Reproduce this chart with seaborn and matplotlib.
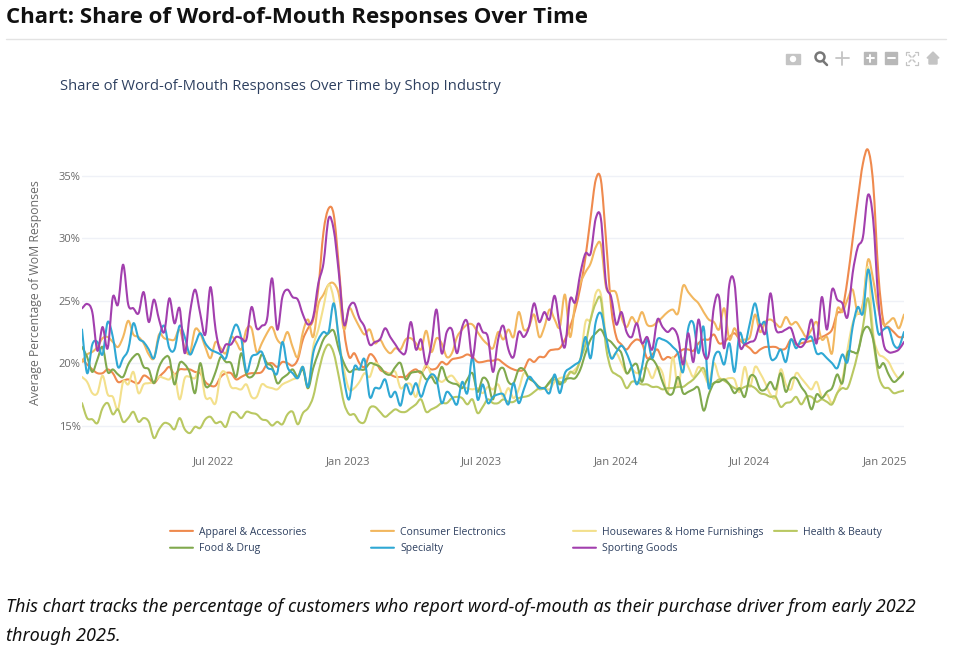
import pandas as pd
import numpy as np
import matplotlib.pyplot as plt
from matplotlib.patches import Rectangle, Circle
from matplotlib.path import Path
from matplotlib.patheffects import AbstractPathEffect
import seaborn as sns

# weekly readings, %
apparel = [
    20.3,19.9,19.5,19.2,19.2,19.5,19.2,18.5,18.6,18.7,
    18.5,18.4,19.0,18.8,18.4,18.9,19.3,19.7,19.1,19.5,
    19.5,19.5,19.3,19.2,18.5,18.2,18.2,18.9,19.2,19.2,
    18.7,18.9,19.1,19.2,19.2,19.3,19.9,20.0,19.7,20.1,
    20.0,19.8,20.3,21.9,22.8,23.5,26.0,30.5,32.4,31.9,
    27.7,22.7,20.5,20.8,20.0,19.7,20.7,20.4,19.5,19.3,
    19.1,18.9,18.9,18.9,19.3,19.5,19.2,19.7,19.5,19.6,
    20.1,19.9,20.3,20.4,20.5,20.7,20.5,20.1,20.1,20.2,
    20.2,20.3,20.0,19.7,19.5,19.4,19.5,20.3,20.1,20.5,
    20.5,21.0,21.1,21.2,21.9,22.9,24.3,26.1,28.5,31.7,
    34.7,34.7,29.9,24.5,22.1,21.5,21.1,21.6,21.9,21.6,
    20.4,20.7,21.1,20.3,20.5,20.4,20.8,21.1,21.1,21.0,
    21.6,21.9,21.9,22.3,21.6,21.7,22.1,22.4,21.9,21.5,
    21.2,20.8,21.1,21.3,21.3,21.3,21.1,21.2,21.9,21.5,
    21.6,21.7,21.8,21.9,22.1,22.3,22.7,24.0,24.3,26.7,
    29.9,33.1,36.0,37.1,34.4,27.2,23.3,22.9,22.5,22.1,22.1]
electronics = [
    20.1,20.7,20.9,21.3,22.0,22.1,21.7,21.3,22.1,23.4,
    22.3,22.1,21.6,20.7,20.4,22.3,22.0,21.9,21.9,22.7,
    21.2,20.8,22.7,22.4,21.3,20.4,21.7,21.2,20.8,22.1,
    21.7,21.1,22.7,22.8,20.9,21.6,22.4,22.9,21.9,21.6,
    22.5,21.3,20.5,22.5,23.5,22.1,24.7,25.5,26.3,26.4,
    25.5,22.7,24.4,23.7,22.9,22.3,22.7,21.6,21.9,21.2,
    20.8,21.2,21.1,21.9,22.0,21.6,21.1,22.6,20.9,22.0,
    21.6,20.5,20.8,22.1,22.7,23.1,23.1,22.5,21.9,21.5,
    21.2,22.5,21.9,22.7,22.1,24.1,22.7,22.9,23.9,22.1,
    22.9,24.3,23.5,22.9,25.5,22.1,24.8,26.4,27.3,28.0,
    29.3,29.5,26.1,25.8,25.6,23.7,22.9,23.7,23.2,24.1,
    23.1,23.0,23.3,23.7,24.1,24.3,24.0,26.2,25.7,25.2,
    24.8,24.1,23.5,23.3,22.7,24.4,21.9,22.8,21.9,21.9,
    22.1,23.9,22.5,23.3,23.5,23.2,22.9,23.7,23.1,23.3,
    22.7,22.1,22.7,23.3,21.9,22.1,20.8,24.3,24.1,25.1,
    25.9,24.0,24.8,28.3,26.7,24.3,23.1,23.3,23.6,22.8,23.9]
housewares = [
    18.9,18.5,17.6,17.6,19.0,17.5,17.3,16.3,18.5,18.3,
    19.3,17.6,18.3,18.4,18.5,18.9,18.8,18.7,19.1,17.1,
    18.8,18.9,18.8,19.5,17.3,17.2,16.8,19.1,19.2,18.1,
    18.0,17.9,18.3,17.3,17.3,18.3,18.1,18.0,17.9,18.3,
    18.5,18.7,18.9,19.7,18.0,21.3,22.7,24.5,26.3,25.1,
    21.9,19.5,17.9,18.0,18.5,19.2,18.9,20.0,19.7,19.2,
    19.2,19.3,18.0,18.3,18.3,17.3,18.9,19.9,19.1,18.8,
    18.5,18.8,19.0,18.5,18.1,18.0,17.9,18.0,17.6,18.1,
    17.9,18.3,17.3,18.0,17.2,17.9,19.2,18.8,18.5,17.9,
    18.0,17.9,18.5,18.8,18.9,19.2,19.5,20.3,23.3,23.5,
    25.6,25.5,22.1,20.5,20.8,20.0,19.2,19.5,19.2,19.5,
    19.6,18.8,19.7,19.2,17.6,20.5,18.1,20.4,19.7,18.9,
    19.7,19.2,18.4,20.0,18.9,18.7,18.8,18.7,17.7,19.7,
    18.1,19.7,19.2,18.4,17.5,17.3,19.5,18.3,17.9,19.2,
    18.8,18.3,17.9,18.5,17.3,17.5,16.8,17.6,18.7,21.1,
    23.2,24.0,24.4,27.7,22.4,20.8,20.5,20.1,19.3,18.8,19.2]
health = [
    16.8,15.6,15.5,15.2,16.4,16.8,15.9,16.3,15.3,15.6,
    16.1,15.3,15.6,15.3,14.0,14.7,15.2,15.1,14.7,15.6,
    14.7,14.4,14.9,14.8,15.5,15.7,15.2,15.3,14.9,16.0,
    16.0,15.6,16.1,16.0,15.9,15.5,15.4,15.0,15.3,15.1,
    15.9,16.1,15.1,16.0,16.4,17.3,19.2,20.8,21.5,20.8,
    18.9,16.8,15.9,15.9,15.3,15.3,16.4,16.5,16.1,15.7,
    16.0,16.3,16.1,16.1,16.4,16.7,17.1,16.1,16.3,16.5,
    16.8,16.8,17.2,17.3,17.2,16.7,17.1,16.0,16.5,17.1,
    16.8,16.8,17.1,16.9,16.9,17.2,17.3,17.4,17.7,18.0,
    18.0,18.4,18.7,18.5,18.5,19.3,19.2,20.3,21.5,23.5,
    24.8,25.1,21.3,19.5,19.1,18.8,18.0,18.5,18.5,18.3,
    18.3,18.1,18.1,17.9,18.0,18.0,18.1,18.1,18.4,18.7,
    19.2,19.6,18.4,18.4,18.7,18.6,18.3,18.0,17.9,18.1,
    18.2,18.0,17.6,17.5,17.3,17.3,16.5,16.8,16.9,17.3,
    16.7,17.3,17.3,16.9,17.1,16.9,16.7,17.6,18.0,18.0,
    19.2,20.8,22.9,25.2,21.9,19.1,18.1,18.0,17.6,17.7,17.8]
food = [
    21.3,20.5,19.3,20.3,21.3,19.3,19.5,19.1,18.9,19.9,
    20.5,20.7,19.7,19.5,18.4,19.7,20.4,20.4,18.3,20.0,
    19.9,19.2,17.6,20.0,18.2,18.3,19.3,20.5,20.1,20.0,
    18.9,20.8,19.1,18.9,19.5,20.7,20.0,19.7,18.4,18.8,
    19.1,19.5,18.9,19.5,18.0,19.6,20.8,21.9,22.4,22.6,
    21.1,20.0,19.3,19.5,19.5,19.5,20.0,19.9,19.7,19.2,
    19.1,19.7,20.0,18.7,19.2,19.3,19.3,18.7,18.9,18.4,
    19.7,18.7,18.4,18.3,18.0,18.7,19.2,17.7,18.8,18.5,
    17.1,19.2,19.6,18.5,18.4,19.5,19.5,18.8,18.5,18.1,
    18.0,18.5,18.9,18.3,18.7,18.8,18.8,19.5,20.8,21.9,
    22.4,22.7,22.0,21.7,21.2,20.8,19.2,19.7,19.9,18.5,
    20.1,20.3,19.7,18.5,17.6,17.6,18.9,17.6,17.7,17.9,
    18.0,16.2,17.5,18.4,18.5,18.7,18.3,17.6,18.0,17.3,
    18.9,18.9,17.9,17.9,18.5,17.9,19.2,17.7,18.7,18.8,
    18.1,17.5,16.3,17.5,17.2,17.7,18.0,19.1,18.4,20.8,
    20.9,20.9,22.5,22.9,21.9,19.7,20.0,19.1,18.5,18.8,19.3]
specialty = [
    22.7,19.2,21.5,21.7,20.7,23.3,22.1,19.7,20.4,21.1,
    23.2,22.0,21.7,21.1,20.4,22.1,23.0,21.2,21.1,23.0,
    22.1,20.7,21.5,22.4,21.6,21.1,20.9,20.7,20.4,22.1,
    23.1,22.0,19.3,20.5,20.7,20.9,19.7,19.5,19.2,21.7,
    19.7,19.2,18.8,19.7,18.1,20.8,21.9,22.5,22.5,24.8,
    21.9,18.7,17.1,19.7,19.5,20.3,17.3,18.0,18.0,18.7,
    17.3,17.7,16.6,18.3,17.5,18.4,17.3,18.4,19.1,18.7,
    16.8,17.7,17.3,16.7,18.5,17.6,20.5,17.1,18.3,16.8,
    17.3,17.5,17.5,16.7,18.4,16.8,17.9,18.9,18.5,18.0,
    18.0,17.6,19.1,17.6,19.2,19.6,19.9,20.3,22.1,20.4,
    23.3,24.0,22.1,20.4,20.9,21.4,20.8,19.7,18.3,19.7,
    21.9,20.4,21.9,21.9,21.7,21.3,20.8,19.3,22.8,23.2,
    20.8,22.9,18.0,20.4,20.9,19.9,21.6,19.3,22.4,21.5,
    23.2,24.8,23.1,23.2,20.5,20.4,21.1,20.1,21.9,21.2,
    21.9,21.9,22.1,20.8,20.8,20.4,20.0,19.6,20.7,20.1,
    22.9,24.5,24.0,27.5,25.1,22.4,22.7,22.8,21.5,21.3,22.5]
sporting = [
    24.4,24.75,24.1,21.0,22.9,21.2,25.3,24.7,27.9,24.7,
    24.4,24.0,25.7,23.3,25.1,23.5,22.5,25.2,23.2,24.4,
    20.8,24.0,25.9,24.0,22.3,26.1,22.7,20.9,21.5,21.5,
    22.1,22.0,21.9,24.5,22.8,23.0,23.5,26.8,22.7,25.3,
    25.9,25.3,25.1,23.9,23.1,23.7,26.4,28.0,31.6,30.7,
    27.2,23.1,24.5,24.8,23.6,22.9,21.5,21.7,21.9,22.8,
    22.1,21.5,20.9,20.9,23.3,21.1,21.9,19.9,21.5,24.3,
    20.8,22.5,22.7,20.8,22.9,23.3,20.4,23.1,22.5,22.1,
    19.3,21.9,23.0,21.1,20.5,22.5,22.1,22.9,24.8,23.3,
    24.1,23.5,25.4,22.9,21.3,25.1,24.9,27.2,28.8,28.8,
    31.6,31.6,26.4,25.3,23.1,24.1,22.5,22.1,23.2,21.6,
    22.1,21.1,23.5,22.9,22.5,22.8,22.1,19.9,22.4,20.1,
    23.5,20.8,20.7,24.5,25.3,21.2,26.3,26.4,21.5,21.5,
    21.7,21.9,23.1,22.4,25.6,22.8,22.5,22.7,22.8,21.6,
    21.3,21.9,23.5,21.6,25.3,22.7,25.9,25.1,24.8,23.7,
    27.2,29.3,30.1,33.5,31.5,25.1,21.6,20.9,20.9,21.1,21.7]

industries = ["Apparel & Accessories", "Consumer Electronics", "Housewares & Home Furnishings",
              "Health & Beauty", "Food & Drug", "Specialty", "Sporting Goods"]
colors = ["#ef8a4e", "#f2b75f", "#f3e08c", "#b9c862", "#80a94e", "#2fa8d4", "#a23fae"]
dates = pd.date_range("2022-01-03", periods=len(apparel), freq="7D")

tick_dates = pd.to_datetime(["2022-07-01", "2023-01-01", "2023-07-01", "2024-01-01", "2024-07-01", "2025-01-01"])
tick_labels = ["Jul 2022", "Jan 2023", "Jul 2023", "Jan 2024", "Jul 2024", "Jan 2025"]
y_ticks = [15, 20, 25, 30, 35]


class SplineLine(AbstractPathEffect):
    # strokes a line through its own points as a curve, like a spline line shape
    def draw_path(self, renderer, gc, tpath, affine, rgbFace=None):
        p = np.asarray(tpath.vertices)
        if len(p) < 3:
            renderer.draw_path(gc, tpath, affine, rgbFace)
            return
        slope = np.gradient(p, axis=0)
        verts = [p[0]]
        codes = [Path.MOVETO]
        for i in range(len(p) - 1):
            verts += [p[i] + slope[i] / 3, p[i + 1] - slope[i + 1] / 3, p[i + 1]]
            codes += [Path.CURVE4] * 3
        renderer.draw_path(gc, Path(np.array(verts), codes), affine, rgbFace)


wide = pd.DataFrame(dict(zip(industries, [apparel, electronics, housewares, health, food, specialty, sporting])))
wide["date"] = dates
df = wide.melt(id_vars="date", var_name="industry", value_name="share")

sns.set_style("white")
plt.rcParams["font.family"] = ["Open Sans", "DejaVu Sans"]

W, H = 966, 653
fig = plt.figure(figsize=(W / 100, H / 100), dpi=100)

# plot area in pixels: x 82-904, y 120-448
ax = fig.add_axes([82 / W, 1 - 448 / H, (904 - 82) / W, (448 - 120) / H])
sns.lineplot(data=df, x="date", y="share", hue="industry", hue_order=industries,
             palette=colors, linewidth=1.5, errorbar=None, legend=False, ax=ax)
for line in ax.get_lines():
    line.set_path_effects([SplineLine()])

ax.set_xlim(dates[0], dates[-1])
ax.set_ylim(13.2, 39.5)
ax.set_xticks(tick_dates)
ax.set_xticklabels(tick_labels)
ax.set_yticks(y_ticks)
ax.set_yticklabels([str(v) + "%" for v in y_ticks])
ax.grid(axis="y", color="#eff1f7", linewidth=1)
ax.set_axisbelow(True)
ax.tick_params(axis="both", length=0, labelsize=8, labelcolor="#6a6a6a")
ax.tick_params(axis="x", pad=6)
ax.tick_params(axis="y", pad=1)
sns.despine(ax=ax, left=True, bottom=True)
ax.set_xlabel("")
ax.set_ylabel("")

# page furniture, drawn in pixel coordinates
page = fig.add_axes([0, 0, 1, 1], zorder=-1)
page.set_xlim(0, W)
page.set_ylim(H, 0)
page.axis("off")

page.text(6, 18, "Chart: Share of Word-of-Mouth Responses Over Time", fontsize=16.05,
          fontweight="bold", color="#111111", va="center", family=["Open Sans", "DejaVu Sans"])
page.plot([6, 946], [39, 39], color="#e3e3e3", linewidth=1)
page.text(60, 86, "Share of Word-of-Mouth Responses Over Time by Shop Industry", fontsize=10.65,
          color="#2e4060", va="center")
page.text(36, 293, "Average Percentage of WoM Responses", fontsize=8.8, color="#6a6a6a",
          rotation=90, va="center", ha="center")
page.text(6, 607, "This chart tracks the percentage of customers who report word-of-mouth as their "
          "purchase driver from early 2022", fontsize=13, style="italic", color="#111111", va="center",
          family=["Noto Sans", "DejaVu Sans"])
page.text(6, 636, "through 2025.", fontsize=13, style="italic", color="#111111", va="center",
          family=["Noto Sans", "DejaVu Sans"])

# modebar icons
gray = "#c4c4c4"
page.add_patch(Rectangle((786, 54), 14, 10, color=gray))
page.add_patch(Circle((793, 59), 2.5, color="white"))
page.add_patch(Circle((820, 57), 4.5, fill=False, edgecolor="#777777", linewidth=1.8))
page.plot([823, 827], [61, 65], color="#777777", linewidth=1.8)
page.plot([836, 849], [58, 58], color=gray, linewidth=1.3)
page.plot([842, 842], [52, 65], color=gray, linewidth=1.3)
page.add_patch(Rectangle((864, 52), 12, 12, color="#b8b8b8"))
page.plot([866.5, 873.5], [58, 58], color="white", linewidth=1.4)
page.plot([870, 870], [54.5, 61.5], color="white", linewidth=1.4)
page.add_patch(Rectangle((885, 52), 12, 12, color="#b8b8b8"))
page.plot([887.5, 894.5], [58, 58], color="white", linewidth=1.4)
for cx, cy, dx, dy in [(906, 52, 1, 1), (918, 52, -1, 1), (906, 65, 1, -1), (918, 65, -1, -1)]:
    page.plot([cx + 3 * dx, cx, cx], [cy, cy, cy + 3 * dy], color=gray, linewidth=0.9)
    page.plot([cx + 3 * dx, cx + 5 * dx], [cy + 3 * dy, cy + 5 * dy], color=gray, linewidth=1.1)
page.fill([927, 933, 939, 937, 937, 929, 929], [58, 52, 58, 58, 64, 64, 58], color=gray)

# legend, one block per column so the columns sit at even spacing
lines = ax.get_lines()
columns = [[0, 4], [1, 5], [2, 6], [3]]
legend_x = [169, 370, 572, 773]
for col, x0 in zip(columns, legend_x):
    fig.legend([lines[i] for i in col], [industries[i] for i in col],
               loc="upper left", bbox_to_anchor=(x0 / W, 1 - 525.5 / H), frameon=False,
               fontsize=7.5, labelcolor="#2e4060", handlelength=2.2, handletextpad=0.6,
               labelspacing=0.56, borderpad=0.1, borderaxespad=0)

fig.savefig("out.png", dpi=100)
